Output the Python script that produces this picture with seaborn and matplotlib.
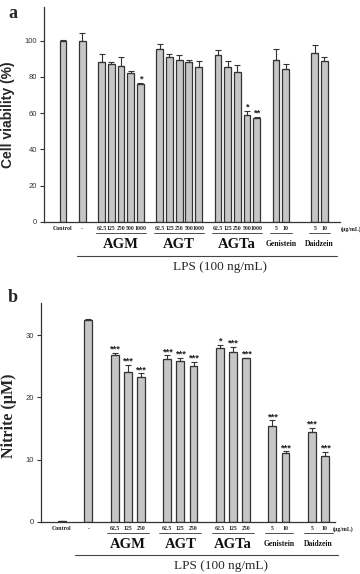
import numpy as np
import pandas as pd
import matplotlib
matplotlib.use("Agg")
import matplotlib.pyplot as plt
import matplotlib.transforms as mtransforms
import seaborn as sns

# panel a - cell viability (%)
a_group = ["Control", "-"] + ["AGM"] * 5 + ["AGT"] * 5 + ["AGTa"] * 5 + ["Genistein"] * 2 + ["Daidzein"] * 2
a_dose = ["Control", "-"] + ["62.5", "125", "250", "500", "1000"] * 3 + ["5", "10"] * 2
a_mean = [100, 100, 88, 87, 86, 82, 76.3, 95.3, 90.7, 89.5, 88, 85.3, 92, 85.5, 82.5, 59.2, 57.3, 89.5, 84.5, 93, 89]
a_err = [0.3, 4, 4.5, 1.2, 5, 1, 0.5, 2.8, 2, 2.8, 1.5, 3.5, 2.8, 3, 4.3, 2, 0.5, 5.7, 2.8, 4.4, 1.7]
a_sig = ["", "", "", "", "", "", "*", "", "", "", "", "", "", "", "", "*", "**", "", "", "", ""]
a_ticks = [0, 20, 40, 60, 80, 100]

# panel b - nitrite (uM)
b_group = ["Control", "-"] + ["AGM"] * 3 + ["AGT"] * 3 + ["AGTa"] * 3 + ["Genistein"] * 2 + ["Daidzein"] * 2
b_dose = ["Control", "-"] + ["62.5", "125", "250"] * 3 + ["5", "10"] * 2
b_mean = [0.1, 32.5, 26.8, 24.1, 23.3, 26.2, 25.9, 25.1, 27.9, 27.3, 26.3, 15.4, 11.0, 14.5, 10.5]
b_err = [0.05, 0.15, 0.4, 1.1, 0.6, 0.6, 0.5, 0.6, 0.6, 0.8, 0.1, 0.9, 0.3, 0.6, 0.7]
b_sig = ["", "", "***", "***", "***", "***", "***", "***", "*", "***", "***", "***", "***", "***", "***"]
b_ticks = [0, 10, 20, 30]

W, H = 360, 574
FILL = "#c6c6c6"
EDGE = "#333333"
SERIF = ["Liberation Serif", "DejaVu Serif"]
SANS = ["Liberation Sans", "DejaVu Sans"]

sns.set_style("ticks")
plt.rcParams["font.family"] = SANS

fig = plt.figure(figsize=(W / 100, H / 100), dpi=100)


def px_axes(l, t, r, b):
    return fig.add_axes([l / W, 1 - b / H, (r - l) / W, (b - t) / H])


def fy(y):
    return 1 - y / H


def draw_panel(ax, group, dose, mean, err, sig, gaps, width, xlim, ylim, ticks, rows):
    # bar slots: consecutive inside a group, one empty slot between groups
    pos = []
    p, prev = None, None
    for g in group:
        if prev is None:
            p = 0
        elif g != prev:
            p += gaps.get(g, 2)
        else:
            p += 1
        pos.append(p)
        prev = g

    df = pd.DataFrame({"pos": pos, "mean": mean})
    sns.barplot(data=df, x="pos", y="mean", native_scale=True, width=width,
                color=FILL, edgecolor=EDGE, linewidth=0.9, saturation=1,
                errorbar=None, ax=ax)
    ax.errorbar(pos, mean, yerr=[np.zeros(len(err)), err], fmt="none",
                ecolor=EDGE, elinewidth=0.8, capsize=2.2, capthick=0.8, zorder=3)
    for x, m, e, s in zip(pos, mean, err, sig):
        if s:
            ax.annotate(s, (x, m + e), xytext=(0, 0.8), textcoords="offset points",
                        ha="center", va="baseline", fontsize=6.8, color="#222222",
                        fontweight="bold", family=SANS)

    ax.set_xlim(*xlim)
    ax.set_ylim(*ylim)
    ax.set_yticks(ticks)
    ax.set_xticks([])
    ax.set_xlabel("")
    ax.set_ylabel("")
    sns.despine(ax=ax)
    for sp in ["left", "bottom"]:
        ax.spines[sp].set_linewidth(0.9)
        ax.spines[sp].set_color("#333333")
    ax.tick_params(axis="y", length=3, width=0.8, pad=2, labelsize=5.5,
                   colors="#333333")

    # labels under the axis
    tr = mtransforms.blended_transform_factory(ax.transData, fig.transFigure)
    dose_y, line_y, name_y = rows
    for x, d in zip(pos, dose):
        ax.text(x, fy(dose_y), d, transform=tr, ha="center", va="center",
                fontsize=4.2, fontweight="bold", family=SERIF, color="#222222")
    names = []
    for g in group:
        if g not in names and g not in ("Control", "-"):
            names.append(g)
    for g in names:
        xs = [x for x, gg in zip(pos, group) if gg == g]
        ax.plot([xs[0] - 0.6, xs[-1] + 0.6], [fy(line_y)] * 2, transform=tr,
                color="#333333", lw=0.6, clip_on=False)
        big = g in ("AGM", "AGT", "AGTa")
        ax.text(np.mean(xs), fy(name_y), g, transform=tr, ha="center",
                va="center", fontsize=10.5 if big else 5.5, fontweight="bold",
                family=SERIF, color="#111111")
    return pos


# panel a
ax_a = px_axes(44, 7, 340, 222)
draw_panel(ax_a, a_group, a_dose, a_mean, a_err, a_sig, {"Daidzein": 3},
           0.7, (-1.95, 28.6), (0, 118.5), a_ticks, (229, 233, 244))
fig.text(351 / W, fy(229), "(\u00b5g/mL)", ha="center", va="center",
         fontsize=4.2, fontweight="bold", family=SERIF, color="#222222")
fig.add_artist(plt.Line2D([77 / W, 337 / W], [fy(256)] * 2, color="#444444", lw=0.8))
fig.text(220 / W, fy(267), "LPS (100 ng/mL)", ha="center", va="center",
         fontsize=9.5, family=SERIF)
fig.text(8 / W, fy(115), "Cell viability (%)", rotation=90, ha="center",
         va="center", fontsize=10, fontweight="bold", family=SANS)
fig.text(13 / W, fy(14), "a", ha="center", va="center", fontsize=13,
         fontweight="bold", family=SERIF)

# panel b
ax_b = px_axes(41, 303, 335.5, 521.7)
draw_panel(ax_b, b_group, b_dose, b_mean, b_err, b_sig, {},
           0.6, (-1.6, 20.8), (0, 35.2), b_ticks, (529, 532.5, 544))
fig.text(343 / W, fy(529), "(\u00b5g/mL)", ha="center", va="center",
         fontsize=4.2, fontweight="bold", family=SERIF, color="#222222")
fig.add_artist(plt.Line2D([75 / W, 338 / W], [fy(555)] * 2, color="#444444", lw=0.8))
fig.text(221 / W, fy(566), "LPS (100 ng/mL)", ha="center", va="center",
         fontsize=9.5, family=SERIF)
fig.text(9 / W, fy(416), "Nitrite (\u00b5M)", rotation=90, ha="center",
         va="center", fontsize=11.5, fontweight="bold", family=SERIF)
fig.text(13 / W, fy(298), "b", ha="center", va="center", fontsize=13,
         fontweight="bold", family=SERIF)

fig.savefig("out.png", dpi=100, facecolor="white")
